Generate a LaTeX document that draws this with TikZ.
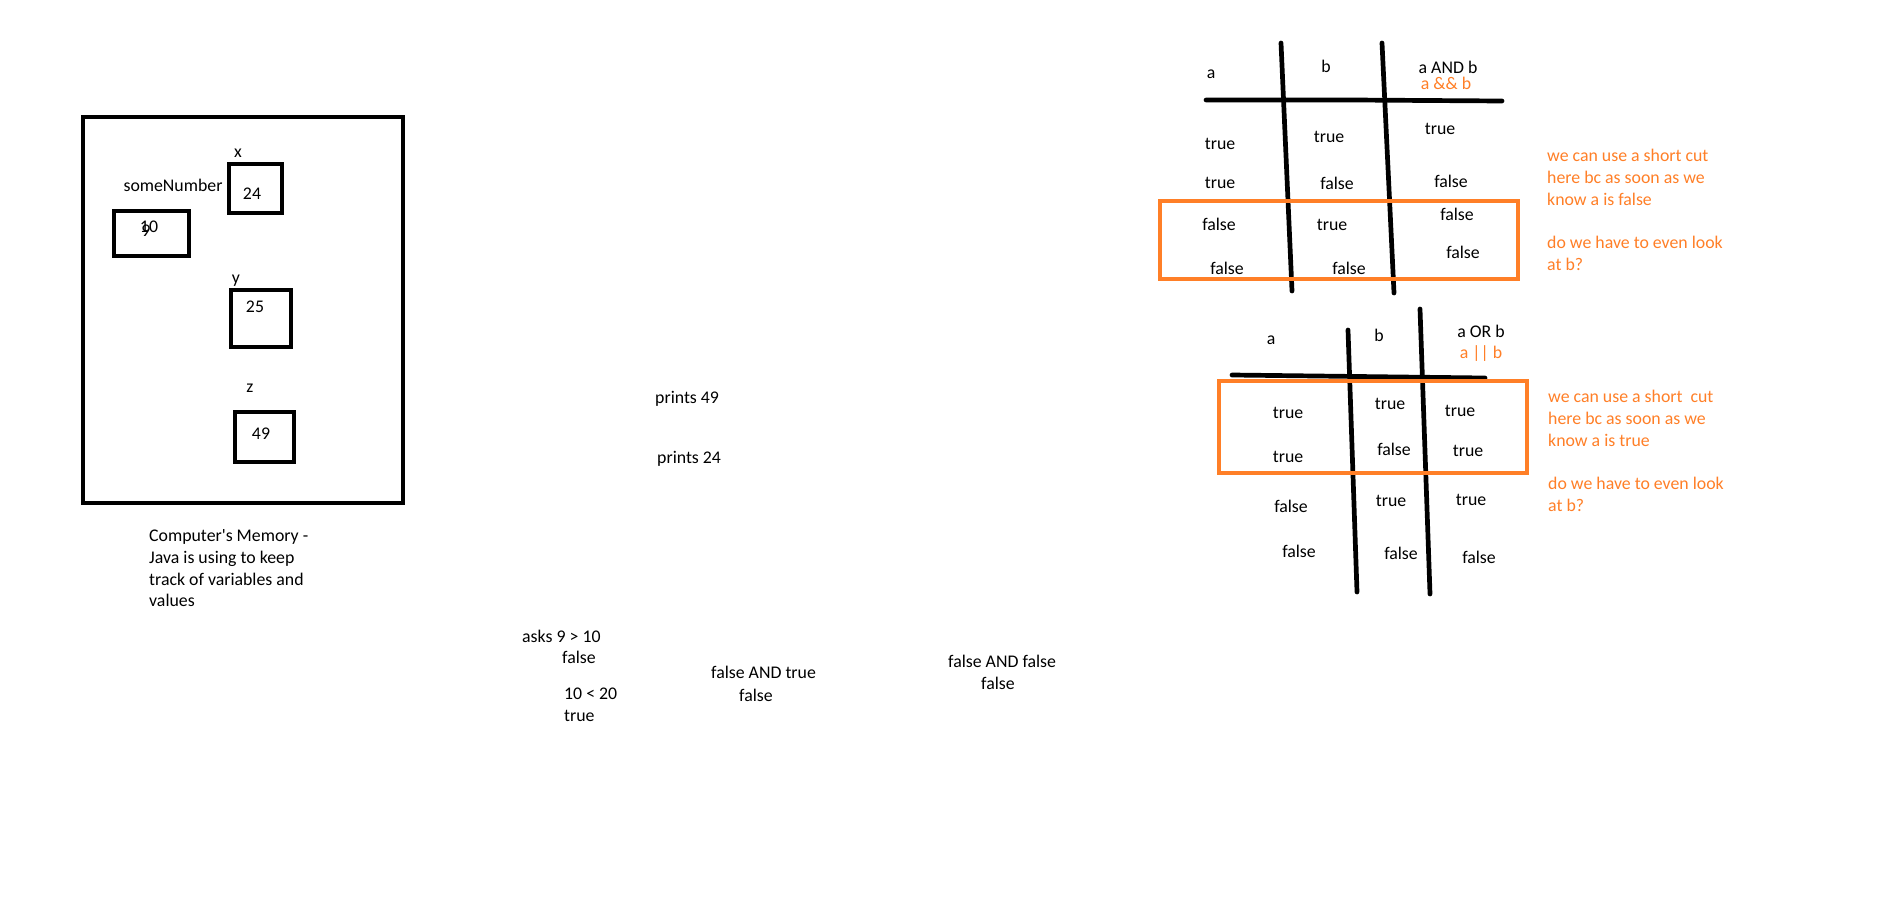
\documentclass[tikz,border=0pt]{standalone}
\usepackage{fontspec}
\setmainfont{Carlito}
\definecolor{paintorange}{RGB}{255,127,39}
\tikzset{
	pen/.style={line width=4.7pt, line cap=round},
	box/.style={line width=4.7pt},
	mark box/.style={line width=4.3pt, draw=paintorange},
	txt/.style={inner sep=0pt, text height=12.5pt, text depth=1pt},
	left txt/.style={txt, anchor=west},
	note/.style={left txt, text=paintorange},
}
\begin{document}
\begin{tikzpicture}[x=1pt, y=-1pt, font=\fontsize{17.8}{21.7}\selectfont]
	\fill[white] (0,0) rectangle (1887,918);
	\useasboundingbox (0,0) rectangle (1887,918);

	% memory
	\draw[box]	(83,117) rectangle (403,503);
	\draw[box]	(114,211) rectangle (189,256);
	\draw[box]	(229,164) rectangle (282,213);
	\draw[box]	(231,290) rectangle (291,347);
	\draw[box]	(235,412) rectangle (294,462);

	\node[txt] (sname) at (173,186) {someNumber};
	\node[txt] (sold) at (149,227) {10};
	\node[txt] (snew) at (146,231) {9};
	\node[txt] (xname) at (238,152) {x};
	\node[txt] (xval) at (252,194) {24};
	\node[txt] (yname) at (236,278) {y};
	\node[txt] (yval) at (255,307) {25};
	\node[txt] (zname) at (250,387) {z};
	\node[txt] (zval) at (261,434) {49};

	\foreach \t [count=\i from 0] in {Computer\textquotesingle s Memory -, Java is using to keep, track of variables and, values}
		\node[left txt] (cap\i) at (149,536+21.7*\i) {\t};

	% printed and asked
	\node[left txt] (p49) at (655,398) {prints 49};
	\node[left txt] (p24) at (657,458) {prints 24};
	\node[left txt] (ask) at (522,637) {asks 9 > 10};
	\node[left txt] (askres) at (562,658) {false};
	\node[left txt] (cmp) at (564,694) {10 < 20};
	\node[left txt] (cmpres) at (564,716) {true};
	\node[left txt] (ft) at (711,673) {false AND true};
	\node[left txt] (ftres) at (739,696) {false};
	\node[left txt] (ff) at (948,662) {false AND false};
	\node[left txt] (ffres) at (981,684) {false};

	% AND table
	\draw[pen]	(1281,43) -- (1292,291);
	\draw[pen]	(1382,43) -- (1394,293);
	\draw[pen]	(1206,100) -- (1353,100) -- (1502,101);
	\node[txt] (anda) at (1211,73) {a};
	\node[txt] (andb) at (1326,67) {b};
	\node[txt] (andab) at (1448,68) {a AND b};
	\node[txt, text=paintorange] (andop) at (1446,84) {a \&\& b};
	\foreach \x/\y/\t [count=\i] in {1220/144/true, 1329/137/true, 1440/129/true,
			1220/183/true, 1337/184/false, 1451/182/false,
			1219/225/false, 1332/225/true, 1457/215/false,
			1227/269/false, 1349/269/false, 1463/253/false}
		\node[txt] (andc\i) at (\x,\y) {\t};
	\draw[mark box]	(1160,201) rectangle (1518,279);

	% OR table
	\draw[pen]	(1348,330) -- (1357,592);
	\draw[pen]	(1420,309) -- (1430,594);
	\draw[pen]	(1232,375) -- (1485,378);
	\node[txt] (ora) at (1271,339) {a};
	\node[txt] (orb) at (1379,336) {b};
	\node[txt] (orab) at (1481,332) {a OR b};
	\node[txt, text=paintorange] (orop) at (1481,353) {a || b};
	\foreach \x/\y/\t [count=\i] in {1288/413/true, 1390/404/true, 1460/411/true,
			1288/457/true, 1394/450/false, 1468/451/true,
			1291/507/false, 1391/501/true, 1471/500/true,
			1299/552/false, 1401/554/false, 1479/558/false}
		\node[txt] (orc\i) at (\x,\y) {\t};
	\draw[mark box]	(1219,381) rectangle (1527,473);

	% notes
	\foreach \k/\t in {0/we can use a short cut, 1/here bc as soon as we, 2/know a is false, 4/do we have to even look, 5/at b?}
		\node[note] (andnote\k) at (1547,156+21.7*\k) {\t};
	\foreach \k/\t in {0/we can use a short~ cut, 1/here bc as soon as we, 2/know a is true, 4/do we have to even look, 5/at b?}
		\node[note] (ornote\k) at (1548,397+21.7*\k) {\t};
\end{tikzpicture}
\end{document}
